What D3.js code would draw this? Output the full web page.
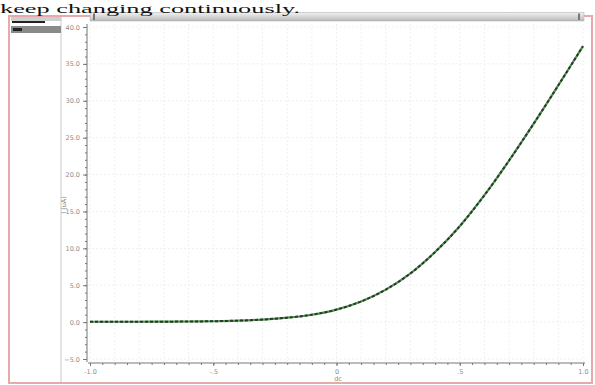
<!DOCTYPE html>
<html>
<head>
<meta charset="utf-8">
<script src="https://cdn.jsdelivr.net/npm/d3@7"></script>
<style>
  html, body { margin: 0; padding: 0; background: #fff; }
  svg { display: block; }
</style>
</head>
<body>
<svg id="chart" width="595" height="385"></svg>
<script>
// Sweep values and measured response
const sweepX = [-1.0, -0.9, -0.8, -0.7, -0.6, -0.5, -0.4, -0.3, -0.2, -0.1, 0.0,
                0.1, 0.2, 0.3, 0.4, 0.5, 0.6, 0.7, 0.8, 0.9, 1.0];
const responseY = [0.05, 0.05, 0.05, 0.06, 0.08, 0.12, 0.2, 0.35, 0.6, 1.0, 1.7,
                   2.8, 4.4, 6.6, 9.5, 13.0, 17.2, 21.9, 26.9, 32.1, 37.4];
const yTickValues = [-5, 0, 5, 10, 15, 20, 25, 30, 35, 40];
const xTickValues = [-1, -0.5, 0, 0.5, 1];
const xTickLabels = ["-1.0", "-.5", "0", ".5", "1.0"];
const captionText = "keep changing continuously.";
const yTitle = "I (uA)";
const xTitle = "dc";

const svg = d3.select("#chart");

// viewer window frame
svg.append("rect").attr("x", 9).attr("y", 16).attr("width", 583).attr("height", 367)
  .attr("fill", "#fff").attr("stroke", "#e8a9ad").attr("stroke-width", 2);

// left side panel
svg.append("line").attr("x1", 61).attr("x2", 61).attr("y1", 17).attr("y2", 382)
  .attr("stroke", "#c9c9c9").attr("stroke-width", 1);
svg.append("rect").attr("x", 11).attr("y", 17).attr("width", 50).attr("height", 4).attr("fill", "#cfcfcf");
svg.append("rect").attr("x", 12).attr("y", 21).attr("width", 33).attr("height", 2).attr("fill", "#222");
svg.append("rect").attr("x", 11).attr("y", 26).attr("width", 50).attr("height", 7).attr("fill", "#8a8a8a");
svg.append("rect").attr("x", 13).attr("y", 28).attr("width", 9).attr("height", 3).attr("fill", "#222");

// scroll bar across the top of the plot
const grad = svg.append("defs").append("linearGradient").attr("id", "sb")
  .attr("x1", 0).attr("x2", 0).attr("y1", 0).attr("y2", 1);
grad.append("stop").attr("offset", "0%").attr("stop-color", "#f2f2f2");
grad.append("stop").attr("offset", "60%").attr("stop-color", "#d0d0d0");
grad.append("stop").attr("offset", "100%").attr("stop-color", "#b8b8b8");
svg.append("rect").attr("x", 90).attr("y", 12.5).attr("width", 494).attr("height", 8.5)
  .attr("fill", "url(#sb)").attr("stroke", "#aaa").attr("stroke-width", 0.5);
svg.append("rect").attr("x", 93).attr("y", 13.5).attr("width", 2).attr("height", 6.5).attr("fill", "#777");
svg.append("rect").attr("x", 578).attr("y", 13.5).attr("width", 2).attr("height", 6.5).attr("fill", "#777");

// scales
const x = d3.scaleLinear().domain([-1, 1]).range([90, 583]);
const y = d3.scaleLinear().domain([-5, 40]).range([359, 27]);

// faint grid
const grid = svg.append("g");
grid.selectAll("line.v").data(d3.range(-1, 1.0001, 0.1)).join("line")
  .attr("x1", d => x(d)).attr("x2", d => x(d)).attr("y1", 24).attr("y2", 362)
  .attr("stroke", "#eef0f2").attr("stroke-dasharray", "2,2");
grid.selectAll("line.h").data(d3.range(-5, 40.001, 5)).join("line")
  .attr("x1", 88).attr("x2", 585).attr("y1", d => y(d)).attr("y2", d => y(d))
  .attr("stroke", "#eef0f2").attr("stroke-dasharray", "2,2");

// y axis with major and minor ticks
const yAxis = svg.append("g").attr("transform", "translate(87,0)")
  .call(d3.axisLeft(y).tickValues(yTickValues).tickSize(4).tickFormat(d3.format(".1f")));
svg.append("g").attr("transform", "translate(87,0)")
  .call(d3.axisLeft(y).tickValues(d3.range(-5, 40.001, 1)).tickSize(2).tickFormat(""))
  .call(g => g.select(".domain").remove());
yAxis.select(".domain").attr("d", "M0,24V362");

// x axis with major and minor ticks
const xAxis = svg.append("g").attr("transform", "translate(0,363)")
  .call(d3.axisBottom(x).tickValues(xTickValues).tickSize(3)
    .tickFormat((d, i) => xTickLabels[i]));
svg.append("g").attr("transform", "translate(0,363)")
  .call(d3.axisBottom(x).tickValues(d3.range(-1, 1.0001, 0.05)).tickSize(2).tickFormat(""))
  .call(g => g.select(".domain").remove());
xAxis.select(".domain").attr("d", "M88,0H585");

svg.selectAll(".tick line, .domain").attr("stroke", "#777").attr("stroke-width", 1);
svg.selectAll(".tick text").attr("fill", "#8c8c8c").attr("font-size", 6.5)
  .attr("font-family", "DejaVu Sans, sans-serif");

// axis titles
svg.append("text").attr("transform", "translate(66,205) rotate(-90)")
  .attr("text-anchor", "middle").attr("font-size", 6.5).attr("fill", "#8c8c8c")
  .attr("font-family", "DejaVu Sans, sans-serif").text(yTitle);
svg.append("text").attr("x", 338).attr("y", 381)
  .attr("text-anchor", "middle").attr("font-size", 6.5).attr("fill", "#8c8c8c")
  .attr("font-family", "DejaVu Sans, sans-serif").text(xTitle);

// response trace: green line with dark dashes over it
const pts = sweepX.map((v, i) => [v, responseY[i]]);
const line = d3.line().x(d => x(d[0])).y(d => y(d[1])).curve(d3.curveMonotoneX);
svg.append("path").attr("d", line(pts)).attr("fill", "none")
  .attr("stroke", "#4a9a4a").attr("stroke-width", 2.2);
svg.append("path").attr("d", line(pts)).attr("fill", "none")
  .attr("stroke", "#333").attr("stroke-width", 2).attr("stroke-dasharray", "3,2");

// caption line above the viewer, stretched across the top band
svg.append("text")
  .attr("x", 0).attr("y", 12.5)
  .attr("font-family", "Liberation Serif, Times New Roman, serif")
  .attr("font-size", 13)
  .attr("textLength", 300).attr("lengthAdjust", "spacingAndGlyphs")
  .attr("fill", "#111")
  .text(captionText);
</script>
</body>
</html>
